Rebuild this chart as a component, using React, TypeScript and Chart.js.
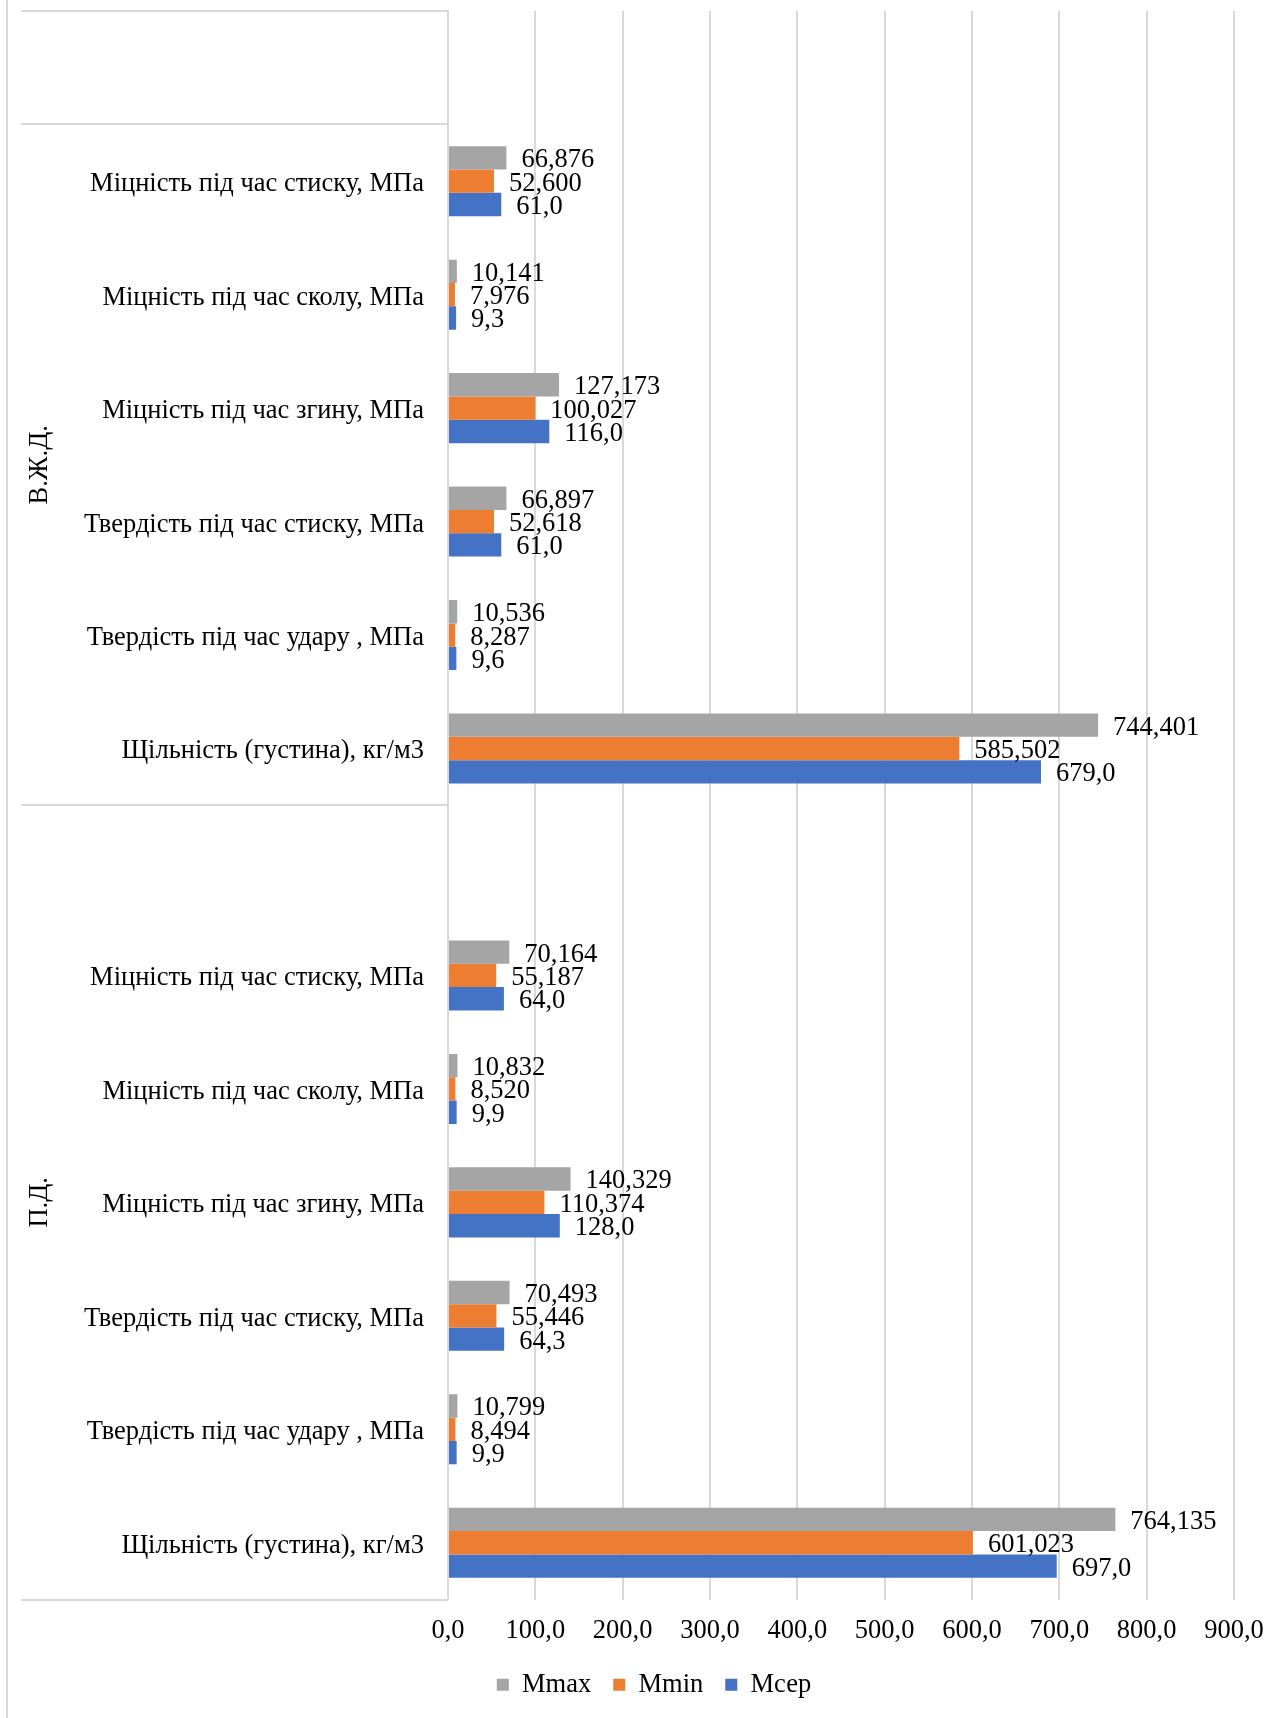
import React, { useEffect, useRef } from 'react';
import { Chart, registerables } from 'chart.js';

Chart.register(...registerables);

// ---- data ----
const categories: string[] = [
  '',
  'Міцність під час стиску, МПа',
  'Міцність під час сколу, МПа',
  'Міцність під час згину, МПа',
  'Твердість під час стиску, МПа',
  'Твердість під час удару , МПа',
  'Щільність (густина), кг/м3',
  '',
  'Міцність під час стиску, МПа',
  'Міцність під час сколу, МПа',
  'Міцність під час згину, МПа',
  'Твердість під час стиску, МПа',
  'Твердість під час удару , МПа',
  'Щільність (густина), кг/м3',
];

const groupNames = ['В.Ж.Д.', 'П.Д.'];
// first and last category index of each group
const groupStart = [1, 7];
const groupEnd = [6, 13];

const seriesNames = ['Mmax', 'Mmin', 'Mсер'];
const mMax: (number | null)[] = [null, 66.876, 10.141, 127.173, 66.897, 10.536, 744.401, null, 70.164, 10.832, 140.329, 70.493, 10.799, 764.135];
const mMin: (number | null)[] = [null, 52.6, 7.976, 100.027, 52.618, 8.287, 585.502, null, 55.187, 8.52, 110.374, 55.446, 8.494, 601.023];
const mSer: (number | null)[] = [null, 61.0, 9.3, 116.0, 61.0, 9.6, 679.0, null, 64.0, 9.9, 128.0, 64.3, 9.9, 697.0];
const seriesDecimals = [3, 3, 1];
const seriesColors = ['#A5A5A5', '#ED7D31', '#4472C4'];

const xTicks = [0, 100, 200, 300, 400, 500, 600, 700, 800, 900];

const FONT = "'Liberation Serif', 'Times New Roman', serif";
const FS = 26.5;
const LINE = '#D9D9D9';

Chart.defaults.font.family = FONT;
Chart.defaults.font.size = FS;
Chart.defaults.color = '#000';

const fmt = (v: number, d: number) => v.toFixed(d).replace('.', ',');

const decorPlugin = {
  id: 'decor',
  beforeDraw(chart: any) {
    const { ctx, chartArea, height } = chart;
    const y = chart.scales.y;
    ctx.save();
    ctx.strokeStyle = LINE;
    ctx.lineWidth = 2;
    // outer left border
    ctx.beginPath();
    ctx.moveTo(7, 0);
    ctx.lineTo(7, height);
    ctx.stroke();
    // horizontal separators in label area
    const bounds: number[] = [chartArea.top];
    const half = (y.getPixelForValue(1) - y.getPixelForValue(0)) / 2;
    groupStart.forEach((s) => bounds.push(y.getPixelForValue(s) - half));
    bounds.push(chartArea.bottom);
    bounds.forEach((b) => {
      const yy = Math.round(b);
      ctx.beginPath();
      ctx.moveTo(21, yy);
      ctx.lineTo(chartArea.left, yy);
      ctx.stroke();
    });
    // group labels
    ctx.fillStyle = '#000';
    ctx.font = `${FS}px ${FONT}`;
    ctx.textAlign = 'center';
    ctx.textBaseline = 'middle';
    groupNames.forEach((g, i) => {
      const top = y.getPixelForValue(groupStart[i]) - half;
      const bot = y.getPixelForValue(groupEnd[i]) + half;
      ctx.save();
      ctx.translate(40, (top + bot) / 2);
      ctx.rotate(-Math.PI / 2);
      ctx.fillText(g, 0, 0);
      ctx.restore();
    });
    ctx.restore();
  },
  afterDatasetsDraw(chart: any) {
    const { ctx } = chart;
    ctx.save();
    ctx.fillStyle = '#000';
    ctx.font = `${FS}px ${FONT}`;
    ctx.textAlign = 'left';
    ctx.textBaseline = 'middle';
    chart.data.datasets.forEach((ds: any, di: number) => {
      const meta = chart.getDatasetMeta(di);
      meta.data.forEach((el: any, i: number) => {
        const v = ds.data[i];
        if (v === null || v === undefined) return;
        ctx.fillText(fmt(v, seriesDecimals[di]), el.x + 15, el.y + 2.5);
      });
    });
    ctx.restore();
  },
};

export default function App() {
  const ref = useRef<HTMLCanvasElement | null>(null);
  useEffect(() => {
    if (!ref.current) return;
    const chart = new Chart(ref.current, {
      type: 'bar',
      data: {
        labels: categories,
        datasets: [mMax, mMin, mSer].map((d, i) => ({
          label: seriesNames[i],
          data: d,
          backgroundColor: seriesColors[i],
          borderWidth: 0,
          barPercentage: 1,
          categoryPercentage: 0.617,
        })),
      },
      options: {
        indexAxis: 'y',
        animation: false,
        responsive: false,
        devicePixelRatio: 1,
        layout: { padding: { left: 74, right: 50, top: 11, bottom: 10 } },
        plugins: {
          legend: {
            position: 'bottom',
            labels: {
              boxWidth: 12,
              boxHeight: 12,
              padding: 22,
              color: '#000',
              font: { family: FONT, size: FS },
            },
          },
          tooltip: { enabled: false },
        },
        scales: {
          x: {
            min: 0,
            max: 900,
            afterBuildTicks: (s: any) => {
              s.ticks = xTicks.map((v) => ({ value: v }));
            },
            afterFit: (s: any) => {
              s.height = 50;
              s.paddingLeft = 0;
              s.paddingRight = 0;
            },
            ticks: {
              color: '#000',
              font: { family: FONT, size: FS },
              padding: 16,
              maxRotation: 0,
              callback: (v: any) => fmt(Number(v), 1),
            },
            grid: { color: LINE, lineWidth: 2, drawTicks: false },
            border: { display: false },
          },
          y: {
            afterFit: (s: any) => {
              s.width = 448 - 74;
              s.paddingTop = 0;
              s.paddingBottom = 0;
            },
            ticks: {
              color: '#000',
              font: { family: FONT, size: FS },
              padding: 24,
              labelOffset: 3,
              autoSkip: false,
            },
            grid: { display: false, drawTicks: false },
            border: { display: true, color: LINE, width: 2 },
          },
        },
      },
      plugins: [decorPlugin],
    } as any);
    return () => chart.destroy();
  }, []);
  return (
    <div style={{ position: 'absolute', left: 0, top: 0, width: 1284, height: 1718, background: '#fff' }}>
      <canvas ref={ref} width={1284} height={1718} style={{ display: 'block', width: 1284, height: 1718 }} />
    </div>
  );
}
